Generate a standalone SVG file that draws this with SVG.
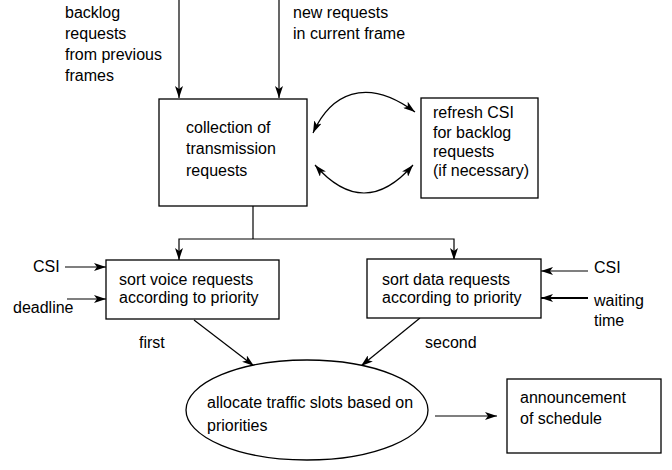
<svg xmlns="http://www.w3.org/2000/svg" width="672" height="470" viewBox="0 0 672 470">
<defs>
<marker id="ah" viewBox="0 0 12 8" refX="12" refY="4" markerWidth="12" markerHeight="8" markerUnits="userSpaceOnUse" orient="auto-start-reverse">
<path d="M0,0 L12,4 L0,8 L3,4 Z" fill="#000"/>
</marker>
</defs>
<style>
text{font-family:"Liberation Sans",Arial,sans-serif;font-size:16px;fill:#000}
.box{fill:#fff;stroke:#000;stroke-width:1.3}
.ln{fill:none;stroke:#000;stroke-width:1.2}
.arr{fill:none;stroke:#000;stroke-width:1.2;marker-end:url(#ah)}
.arr2{fill:none;stroke:#000;stroke-width:1.2;marker-end:url(#ah);marker-start:url(#ah)}
</style>
<rect width="672" height="470" fill="#fff"/>

<g id="connectors">
<line class="arr" x1="179" y1="0" x2="179" y2="98"/>
<line class="arr" x1="279" y1="0" x2="279" y2="98"/>
<path class="arr2" d="M313,133 C330,95 365,75 415,112"/>
<path class="arr2" d="M315,165 Q364,221 413,165"/>
<polyline class="ln" points="253,206 253,239"/>
<polyline class="arr" points="253,239 179,239 179,260"/>
<polyline class="arr" points="253,239 454,239 454,260"/>
<line class="arr" x1="65" y1="267" x2="106" y2="267"/>
<line class="arr" x1="67" y1="299" x2="106" y2="299"/>
<line class="arr" x1="588" y1="271" x2="541" y2="271"/>
<line class="arr" x1="588" y1="298" x2="541" y2="298" style="stroke-width:2"/>
<line class="arr" x1="194" y1="320" x2="254" y2="366"/>
<line class="arr" x1="420" y1="318" x2="361" y2="366"/>
<line class="arr" x1="435" y1="416" x2="497" y2="416"/>
</g>

<g id="label-backlog">
<text x="65" y="18">backlog</text>
<text x="65" y="39">requests</text>
<text x="65" y="60">from previous</text>
<text x="65" y="81">frames</text>
</g>
<g id="label-new">
<text x="293" y="18">new requests</text>
<text x="293" y="39">in current frame</text>
</g>

<g id="collection">
<rect class="box" x="159" y="99" width="148" height="107"/>
<text x="186" y="133">collection of</text>
<text x="186" y="154">transmission</text>
<text x="186" y="176">requests</text>
</g>

<g id="refresh">
<rect class="box" x="421" y="98" width="117" height="100"/>
<text x="433" y="118">refresh CSI</text>
<text x="433" y="138">for backlog</text>
<text x="433" y="157">requests</text>
<text x="433" y="176">(if necessary)</text>
</g>

<g id="voice">
<rect class="box" x="106" y="260" width="173" height="59"/>
<text x="119" y="285">sort voice requests</text>
<text x="119" y="303">according to priority</text>
</g>

<g id="data">
<rect class="box" x="367" y="259" width="174" height="59"/>
<text x="382" y="285">sort data requests</text>
<text x="382" y="303">according to priority</text>
</g>

<g id="inputs">
<text x="33" y="272">CSI</text>
<text x="13" y="313">deadline</text>
<text x="594" y="273">CSI</text>
<text x="594" y="306">waiting</text>
<text x="594" y="326">time</text>
<text x="139" y="348">first</text>
<text x="425" y="348">second</text>
</g>

<g id="allocate">
<ellipse class="box" cx="307" cy="410" rx="121" ry="50"/>
<text x="207" y="408">allocate traffic slots based on</text>
<text x="207" y="431">priorities</text>
</g>

<g id="announcement">
<rect class="box" x="507" y="379" width="154" height="74"/>
<text x="520" y="403">announcement</text>
<text x="520" y="424">of schedule</text>
</g>
</svg>
